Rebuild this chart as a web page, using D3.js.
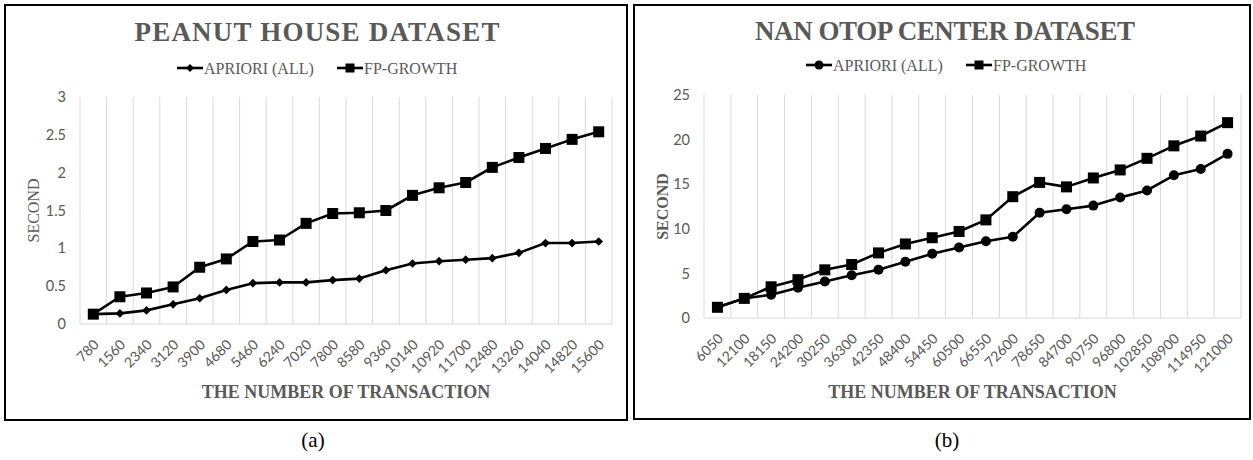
<!DOCTYPE html>
<html>
<head>
<meta charset="utf-8">
<script src="https://cdn.jsdelivr.net/npm/d3@7"></script>
<style>
  html, body { margin: 0; padding: 0; background: #fff; }
  svg { display: block; }
</style>
</head>
<body>
<svg id="fig" width="1253" height="460"></svg>
<script>
// Transaction counts (x categories)
const peanutTransactions = ["780","1560","2340","3120","3900","4680","5460","6240","7020","7800","8580","9360","10140","10920","11700","12480","13260","14040","14820","15600"];
const otopTransactions = ["6050","12100","18150","24200","30250","36300","42350","48400","54450","60500","66550","72600","78650","84700","90750","96800","102850","108900","114950","121000"];

// Run time in seconds
const peanutApriori = [0.13,0.14,0.18,0.26,0.34,0.45,0.54,0.55,0.55,0.58,0.60,0.71,0.80,0.83,0.85,0.87,0.94,1.07,1.07,1.09];
const peanutFpGrowth = [0.13,0.36,0.41,0.49,0.75,0.86,1.09,1.11,1.33,1.46,1.47,1.50,1.70,1.80,1.87,2.07,2.20,2.32,2.44,2.54];
const otopApriori = [1.2,2.2,2.6,3.4,4.1,4.8,5.4,6.3,7.2,7.9,8.6,9.1,11.8,12.2,12.6,13.5,14.3,16.0,16.7,18.4];
const otopFpGrowth = [1.2,2.2,3.5,4.3,5.4,6.0,7.3,8.3,9.0,9.7,11.0,13.6,15.2,14.7,15.7,16.6,17.9,19.3,20.4,21.9];

// Y-axis ticks
const peanutTicks = [0, 0.5, 1, 1.5, 2, 2.5, 3];
const otopTicks = [0, 5, 10, 15, 20, 25];

const seriesNames = ["APRIORI (ALL)", "FP-GROWTH"];

const GREY = "#595959";
const SERIF = "'Liberation Serif', 'Times New Roman', serif";
const SANS = "Lato, 'Open Sans', sans-serif";

const svg = d3.select("#fig");

function drawPanel(cfg) {
  const g = svg.append("g");

  // panel frame
  g.append("rect")
    .attr("x", cfg.box[0]).attr("y", cfg.box[1])
    .attr("width", cfg.box[2]).attr("height", cfg.box[3])
    .attr("fill", "none").attr("stroke", "#000").attr("stroke-width", 2);

  const x = d3.scaleBand().domain(cfg.categories).range([cfg.plot.left, cfg.plot.right]);
  const y = d3.scaleLinear().domain([0, cfg.ticks[cfg.ticks.length - 1]]).range([cfg.plot.bottom, cfg.plot.top]);

  // vertical gridlines at category boundaries
  const bounds = cfg.categories.map(c => x(c)).concat([cfg.plot.right]);
  g.append("g").selectAll("line").data(bounds).join("line")
    .attr("x1", d => d).attr("x2", d => d)
    .attr("y1", cfg.plot.top).attr("y2", cfg.plot.bottom)
    .attr("stroke", "#d9d9d9").attr("stroke-width", 1);

  // baseline
  g.append("line")
    .attr("x1", cfg.plot.left).attr("x2", cfg.plot.right)
    .attr("y1", y(0)).attr("y2", y(0))
    .attr("stroke", "#d9d9d9").attr("stroke-width", 1);

  // y axis labels
  const yAxis = d3.axisLeft(y).tickValues(cfg.ticks).tickSize(0).tickPadding(0)
    .tickFormat(d3.format("~g"));
  const ya = g.append("g").attr("transform", `translate(${cfg.yLabelX},0)`).call(yAxis);
  ya.select(".domain").remove();
  ya.selectAll("text").attr("fill", GREY).attr("font-family", SANS).attr("font-size", 14.5);

  // x axis labels (rotated)
  const xAxis = d3.axisBottom(x).tickSize(0).tickPadding(0);
  const xa = g.append("g").attr("transform", `translate(0,${y(0)})`).call(xAxis);
  xa.select(".domain").remove();
  xa.selectAll("text")
    .attr("fill", GREY).attr("font-family", SANS).attr("font-size", 14)
    .attr("text-anchor", "end")
    .attr("dy", "0.35em")
    .attr("transform", "translate(3,18) rotate(-45)");

  const cx = d => x(d) + x.bandwidth() / 2;
  const line = d3.line().x((d, i) => cx(cfg.categories[i])).y(d => y(d));

  [cfg.apriori, cfg.fp].forEach(vals => {
    g.append("path").datum(vals)
      .attr("d", line).attr("fill", "none")
      .attr("stroke", "#000").attr("stroke-width", 2.6).attr("stroke-linejoin", "round");
  });

  function marker(sel, kind) {
    if (kind === "diamond") {
      sel.append("path").attr("d", d3.symbol(d3.symbolDiamond2, 48)()).attr("fill", "#000");
    } else if (kind === "circle") {
      sel.append("circle").attr("r", 5).attr("fill", "#000");
    } else {
      sel.append("rect").attr("x", -5.5).attr("y", -5.5).attr("width", 11).attr("height", 11).attr("fill", "#000");
    }
  }

  // Apriori markers
  const am = g.append("g").selectAll("g").data(cfg.apriori).join("g")
    .attr("transform", (d, i) => `translate(${cx(cfg.categories[i])},${y(d)})`);
  marker(am, cfg.aprioriMarker);
  // FP-Growth markers
  const fm = g.append("g").selectAll("g").data(cfg.fp).join("g")
    .attr("transform", (d, i) => `translate(${cx(cfg.categories[i])},${y(d)})`);
  marker(fm, "square");

  // title
  g.append("text")
    .attr("x", cfg.titleX).attr("y", cfg.titleY)
    .attr("text-anchor", "middle")
    .attr("font-family", SERIF).attr("font-weight", "bold").attr("font-size", 27)
    .attr("textLength", cfg.titleWidth).attr("lengthAdjust", "spacing")
    .attr("fill", GREY)
    .text(cfg.title);

  // legend
  const legend = g.append("g");
  const items = [
    { name: seriesNames[0], kind: cfg.aprioriMarker, x: cfg.legendX[0] },
    { name: seriesNames[1], kind: "square", x: cfg.legendX[1] }
  ];
  items.forEach(it => {
    const lg = legend.append("g").attr("transform", `translate(${it.x},${cfg.legendY})`);
    lg.append("line").attr("x1", 0).attr("x2", 26).attr("y1", 0).attr("y2", 0)
      .attr("stroke", "#000").attr("stroke-width", 2.6);
    const m = lg.append("g").attr("transform", "translate(13,0)");
    if (it.kind === "square") {
      m.append("rect").attr("x", -4.5).attr("y", -4.5).attr("width", 9).attr("height", 9).attr("fill", "#000");
    } else if (it.kind === "circle") {
      m.append("circle").attr("r", 4.5).attr("fill", "#000");
    } else {
      m.append("path").attr("d", d3.symbol(d3.symbolDiamond2, 40)()).attr("fill", "#000");
    }
    lg.append("text").attr("x", 27).attr("y", 0).attr("dy", "0.35em")
      .attr("font-family", SERIF).attr("font-size", 16).attr("fill", GREY)
      .text(it.name);
  });

  // y axis title
  g.append("text")
    .attr("transform", `translate(${cfg.yTitleX},${(cfg.plot.top + cfg.plot.bottom) / 2}) rotate(-90)`)
    .attr("text-anchor", "middle").attr("dy", "0.35em")
    .attr("font-family", SERIF).attr("font-size", 16)
    .attr("font-weight", cfg.yTitleBold ? "bold" : "normal")
    .attr("fill", GREY)
    .text("SECOND");

  // x axis title
  g.append("text")
    .attr("x", (cfg.plot.left + cfg.plot.right) / 2).attr("y", cfg.xTitleY)
    .attr("text-anchor", "middle")
    .attr("font-family", SERIF).attr("font-weight", "bold").attr("font-size", 18)
    .attr("fill", GREY)
    .text("THE NUMBER OF TRANSACTION");

  // panel caption
  g.append("text")
    .attr("x", cfg.captionX).attr("y", 447)
    .attr("text-anchor", "middle")
    .attr("font-family", SERIF).attr("font-size", 21).attr("fill", "#000")
    .text(cfg.caption);
}

drawPanel({
  box: [5, 5, 622, 415],
  plot: { left: 80, right: 612, top: 97, bottom: 324 },
  categories: peanutTransactions,
  ticks: peanutTicks,
  apriori: peanutApriori,
  fp: peanutFpGrowth,
  aprioriMarker: "diamond",
  title: "PEANUT HOUSE DATASET",
  titleX: 317, titleY: 41, titleWidth: 365,
  legendX: [177, 337], legendY: 68,
  yLabelX: 66,
  yTitleX: 33, yTitleBold: false,
  xTitleY: 398,
  caption: "(a)", captionX: 313
});

drawPanel({
  box: [634, 5, 616, 414],
  plot: { left: 704, right: 1241, top: 95, bottom: 318 },
  categories: otopTransactions,
  ticks: otopTicks,
  apriori: otopApriori,
  fp: otopFpGrowth,
  aprioriMarker: "circle",
  title: "NAN OTOP CENTER DATASET",
  titleX: 945, titleY: 40, titleWidth: 380,
  legendX: [806, 966], legendY: 65,
  yLabelX: 690,
  yTitleX: 662, yTitleBold: true,
  xTitleY: 398,
  caption: "(b)", captionX: 947
});
</script>
</body>
</html>
